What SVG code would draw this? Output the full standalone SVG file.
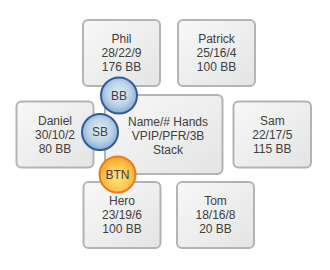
<svg xmlns="http://www.w3.org/2000/svg" width="330" height="270" viewBox="0 0 330 270">
<defs>
<linearGradient id="boxg" x1="0" y1="0" x2="1" y2="1">
<stop offset="0" stop-color="#f8f8f8"/>
<stop offset="1" stop-color="#e3e4e4"/>
</linearGradient>
<radialGradient id="blueg" cx="0.5" cy="0.45" r="0.55">
<stop offset="0" stop-color="#e4eef6"/>
<stop offset="0.6" stop-color="#bcd2e6"/>
<stop offset="1" stop-color="#86acd0"/>
</radialGradient>
<radialGradient id="orangeg" cx="0.5" cy="0.6" r="0.6">
<stop offset="0" stop-color="#ffe680"/>
<stop offset="0.6" stop-color="#fec44a"/>
<stop offset="1" stop-color="#f8a030"/>
</radialGradient>
</defs>
<style>
.box{fill:url(#boxg);stroke:#b4b4b4;stroke-width:2}
.t{font-family:"Liberation Sans",Arial,sans-serif;font-size:12px;fill:#404040;text-anchor:middle}
.blue{fill:url(#blueg);stroke:#335a9c;stroke-width:2}
.orange{fill:url(#orangeg);stroke:#ee7a1e;stroke-width:2}
</style>
<rect width="330" height="270" fill="#ffffff"/>
<g id="connectors"/>
<g id="phil">
<rect class="box" x="83" y="20" width="77" height="66" rx="5"/>
<text class="t" x="121.5" y="43">Phil</text>
<text class="t" x="121.5" y="57">28/22/9</text>
<text class="t" x="121.5" y="71">176 BB</text>
</g>
<g id="patrick">
<rect class="box" x="178" y="20" width="77" height="66" rx="5"/>
<text class="t" x="216.5" y="43">Patrick</text>
<text class="t" x="216.5" y="57">25/16/4</text>
<text class="t" x="216.5" y="71">100 BB</text>
</g>
<g id="daniel">
<rect class="box" x="16.5" y="101.5" width="77" height="66" rx="5"/>
<text class="t" x="55" y="124.5">Daniel</text>
<text class="t" x="55" y="138.5">30/10/2</text>
<text class="t" x="55" y="152.5">80 BB</text>
</g>
<g id="center">
<rect class="box" x="105" y="95" width="117.5" height="79" rx="5"/>
<text class="t" x="168" y="126">Name/# Hands</text>
<text class="t" x="168" y="140">VPIP/PFR/3B</text>
<text class="t" x="168" y="154">Stack</text>
</g>
<g id="sam">
<rect class="box" x="233.5" y="101.5" width="77.5" height="66" rx="5"/>
<text class="t" x="272.3" y="124.5">Sam</text>
<text class="t" x="272.3" y="138.5">22/17/5</text>
<text class="t" x="272.3" y="152.5">115 BB</text>
</g>
<g id="hero">
<rect class="box" x="83.5" y="182" width="77" height="66" rx="5"/>
<text class="t" x="122" y="205">Hero</text>
<text class="t" x="122" y="219">23/19/6</text>
<text class="t" x="122" y="233">100 BB</text>
</g>
<g id="tom">
<rect class="box" x="177" y="182" width="77" height="66" rx="5"/>
<text class="t" x="215.5" y="205">Tom</text>
<text class="t" x="215.5" y="219">18/16/8</text>
<text class="t" x="215.5" y="233">20 BB</text>
</g>
<g id="bb">
<circle class="blue" cx="119" cy="95.5" r="18"/>
<text class="t" x="119" y="99.7">BB</text>
</g>
<g id="sb">
<circle class="blue" cx="100" cy="132" r="18"/>
<text class="t" x="100" y="136.2">SB</text>
</g>
<g id="btn">
<circle class="orange" cx="117.5" cy="174.5" r="18"/>
<text class="t" x="117.5" y="178.7">BTN</text>
</g>
</svg>
